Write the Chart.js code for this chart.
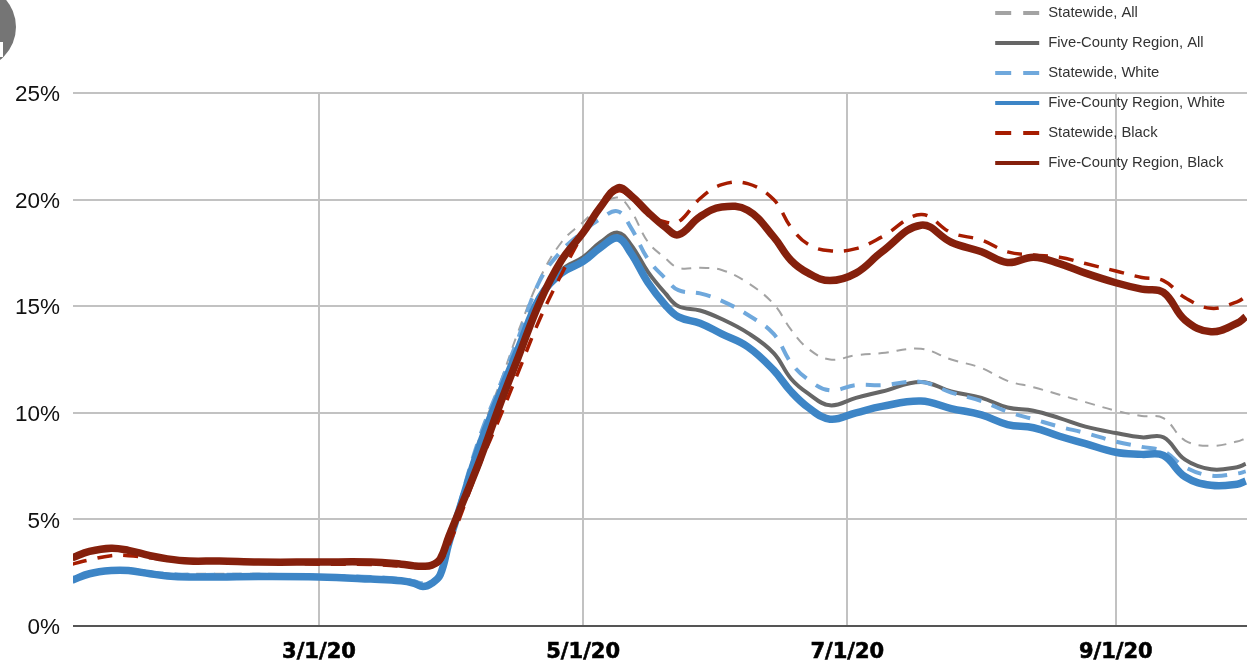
<!DOCTYPE html>
<html><head><meta charset="utf-8">
<style>
html,body{margin:0;padding:0;background:#fff;overflow:hidden}
#wrap{position:relative;width:1247px;height:665px;overflow:hidden}
canvas{position:absolute;left:0;top:0;filter:blur(0.4px)}
#badge{position:absolute;left:-68.5px;top:-15px;width:84px;height:84px;border-radius:50%;background:#757575;overflow:hidden}
#badge i{position:absolute;left:68.5px;top:57px;width:3px;height:15px;background:#fff}
</style>
<script src="https://cdn.jsdelivr.net/npm/chart.js@4"></script>
</head><body>
<div id="wrap"><canvas id="c" width="1247" height="665"></canvas><div id="badge"><i></i></div></div>
<script>
const days=[-57,-53,-48,-44,-39,-35,-30,-23,-14,0,12,19,22,24,26,28,30,32,37,42,46,51,56,61,65,69,72,76,80,83,88,93,99,105,109,113,118,124,130,139,146,153,159,165,171,177,184,190,195,200,206,212,214];
const tickDays=[0,61,122,184];
const tickLabels=['3/1/20','5/1/20','7/1/20','9/1/20'];
const statewideAll=[2.2,2.5,2.7,2.7,2.55,2.45,2.45,2.45,2.45,2.4,2.3,2.2,2.1,2.0,2.1,2.4,3.9,5.4,8.8,11.5,13.8,16.3,18.0,18.95,19.7,20.1,19.5,18.0,17.25,16.8,16.8,16.7,16.1,15.1,13.9,13.0,12.5,12.7,12.8,13.0,12.5,12.1,11.5,11.2,10.85,10.5,10.1,9.85,9.75,8.7,8.45,8.65,8.8];
const fiveCountyAll=[2.2,2.5,2.65,2.65,2.5,2.4,2.35,2.35,2.35,2.32,2.25,2.15,2.05,1.9,2.05,2.4,3.9,5.2,8.2,11.0,13.0,15.4,16.7,17.3,18.0,18.45,17.9,16.6,15.6,15.0,14.8,14.4,13.75,12.8,11.6,10.9,10.35,10.7,11.0,11.45,11.0,10.7,10.25,10.1,9.75,9.35,9.05,8.85,8.85,7.8,7.35,7.45,7.6];
const statewideWhite=[2.2,2.5,2.65,2.65,2.5,2.45,2.4,2.4,2.4,2.35,2.3,2.2,2.1,2.0,2.1,2.4,3.9,5.4,8.8,11.4,13.5,16.2,17.6,18.5,19.1,19.45,18.7,17.2,16.3,15.75,15.6,15.25,14.6,13.7,12.35,11.55,11.05,11.3,11.3,11.45,10.95,10.55,10.05,9.7,9.35,9.05,8.65,8.4,8.2,7.45,7.05,7.15,7.25];
const fiveCountyWhite=[2.15,2.45,2.6,2.6,2.45,2.35,2.3,2.3,2.32,2.3,2.2,2.12,2.0,1.85,2.0,2.4,3.9,5.2,8.4,11.0,13.0,15.4,16.55,17.1,17.75,18.2,17.5,16.1,15.05,14.5,14.2,13.7,13.1,12.0,11.0,10.25,9.7,10.0,10.3,10.55,10.2,9.9,9.45,9.3,8.9,8.55,8.15,8.05,8.0,7.0,6.6,6.65,6.8];
const statewideBlack=[2.9,3.1,3.3,3.3,3.2,3.1,3.05,3.0,3.0,2.9,2.88,2.8,2.77,2.75,2.8,3.0,3.8,4.8,7.5,9.9,11.9,14.4,16.5,18.4,19.6,20.4,20.1,19.3,18.95,18.95,20.05,20.7,20.75,20.0,18.7,17.9,17.6,17.7,18.25,19.3,18.45,18.1,17.55,17.4,17.3,17.0,16.65,16.35,16.2,15.4,14.9,15.2,15.45];
const fiveCountyBlack=[3.2,3.5,3.65,3.55,3.3,3.15,3.05,3.05,3.0,3.0,3.0,2.9,2.82,2.8,2.85,3.15,4.2,5.2,7.7,10.5,12.6,15.2,17.15,18.45,19.65,20.55,20.2,19.4,18.7,18.35,19.2,19.65,19.5,18.25,17.15,16.55,16.2,16.55,17.55,18.8,18.0,17.55,17.05,17.3,17.0,16.55,16.1,15.8,15.65,14.35,13.8,14.2,14.5];

const series=[
 {label:'Statewide, All',values:statewideAll,color:'#a3a3a3',width:2,dash:[10,8],legendDash:[16,12,16,100]},
 {label:'Five-County Region, All',values:fiveCountyAll,color:'#666666',width:4,dash:[],legendDash:[44,100]},
 {label:'Statewide, White',values:statewideWhite,color:'#6fa8dc',width:4,dash:[15,11],legendDash:[16,12,16,100]},
 {label:'Five-County Region, White',values:fiveCountyWhite,color:'#3d85c6',width:7.5,dash:[],legendDash:[44,100]},
 {label:'Statewide, Black',values:statewideBlack,color:'#a61c00',width:3.5,dash:[15,11],legendDash:[16,12,16,100]},
 {label:'Five-County Region, Black',values:fiveCountyBlack,color:'#85200c',width:7.5,dash:[],legendDash:[44,100]}
];

const placeLegend={id:'placeLegend',afterLayout(chart){
  const l=chart.legend,h=l.height,w=l.width;
  l.left=980;l.right=980+w;l.top=-9.7;l.bottom=-9.7+h;
  if(l.adjustHitBoxes)l.adjustHitBoxes();
}};

new Chart(document.getElementById('c'),{
 type:'line',
 data:{datasets:series.map((s,i)=>({
   label:s.label,
   data:days.map((d,k)=>({x:d,y:s.values[k]})),
   borderColor:s.color,backgroundColor:s.color,borderWidth:s.width,borderDash:s.dash,
   pointRadius:0,tension:0.4,borderCapStyle:'butt',borderJoinStyle:'round',
   fill:false,order:series.length-i
 }))},
 options:{
  responsive:false,animation:false,devicePixelRatio:1,
  layout:{padding:{left:0,right:0,top:93,bottom:0}},
  plugins:{
   tooltip:{enabled:false},
   legend:{display:true,position:'chartArea',align:'start',
    labels:{boxWidth:45.6,boxHeight:0,padding:15.2,color:'#333333',
     font:{family:'"Liberation Sans",Arial,sans-serif',size:14.8},
     generateLabels(){return series.map((s,i)=>({text:s.label,fillStyle:'rgba(0,0,0,0)',strokeStyle:s.color,lineWidth:4,lineDash:s.legendDash,lineCap:'butt',hidden:false,datasetIndex:i,fontColor:'#333333'}));}
    }
   }
  },
  scales:{
   x:{type:'linear',min:-56.8,max:214.3,
    afterBuildTicks(sc){sc.ticks=tickDays.map(v=>({value:v}));},
    afterFit(sc){sc.height=39;},
    border:{display:false},
    grid:{color:'#c2c2c2',lineWidth:2,drawTicks:false},
    ticks:{autoSkip:false,maxRotation:0,padding:14,color:'#000000',textStrokeColor:'#000000',textStrokeWidth:0.6,
     font:{family:'"DejaVu Sans",sans-serif',size:21,weight:'bold'},
     callback(v){return tickLabels[tickDays.indexOf(v)];}}
   },
   y:{min:0,max:25,
    afterFit(sc){sc.width=73;},
    border:{display:false},
    grid:{color:c=>c.tick.value===0?'#555555':'#c2c2c2',lineWidth:2,drawTicks:false},
    ticks:{stepSize:5,padding:13,labelOffset:2,color:'#111111',
     font:{family:'"Liberation Sans",Arial,sans-serif',size:22.5},
     callback(v){return v+'%';}}
   }
  }
 },
 plugins:[placeLegend]
});
</script>
</body></html>
